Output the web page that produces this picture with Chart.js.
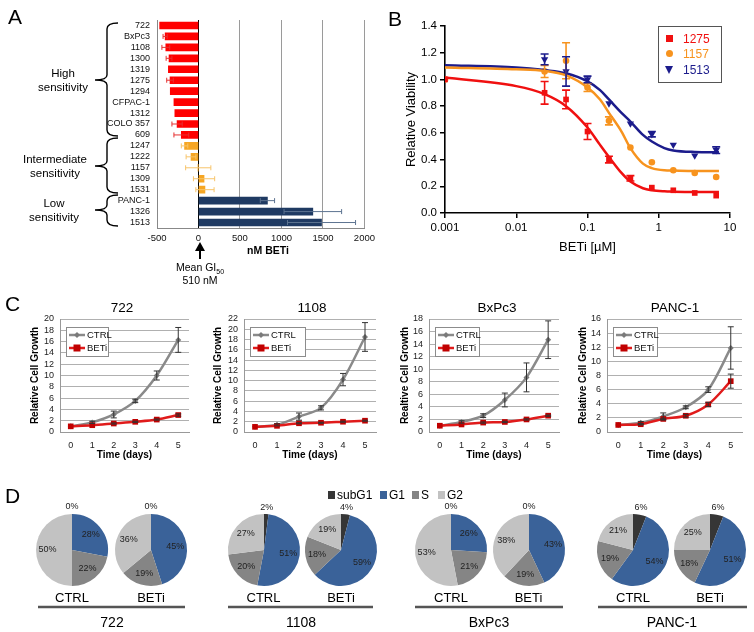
<!DOCTYPE html>
<html><head><meta charset="utf-8">
<script src="https://cdn.jsdelivr.net/npm/chart.js@4.4.1/dist/chart.umd.min.js"></script>
<style>
body{margin:0;background:#fff;}
#root{position:relative;width:754px;height:632px;overflow:hidden;background:#fff;font-family:"Liberation Sans",Arial,sans-serif;}
canvas,.t,svg{position:absolute;}
.t{white-space:nowrap;color:#000;line-height:1;}
</style></head><body><div id="root"></div>
<script>
// ================= DATA =================
// Panel A: GI50 relative to mean (nM)
const aLines  = ['722','BxPc3','1108','1300','1319','1275','1294','CFPAC-1','1312','COLO 357','609','1247','1222','1157','1309','1531','PANC-1','1326','1513'];
const aValues = [-468,-402,-394,-355,-363,-343,-340,-296,-285,-258,-207,-168,-90,-3,67,78,831,1378,1483];
const aErrors = [0,25,47,35,0,40,0,0,0,62,89,39,59,152,128,110,86,347,410];
const aGroups = ['H','H','H','H','H','H','H','H','H','H','H','M','M','M','M','M','L','L','L'];
const aTicks  = [-500,0,500,1000,1500,2000];

// Panel B: dose response (relative viability)
const bDoses   = [0.001,0.025,0.05,0.1,0.2,0.4,0.8,1.6,3.2,6.4];
const b1275    = [1.00,0.90,0.85,0.61,0.40,0.26,0.19,0.17,0.15,0.13];
const b1275Err = [0,0.085,0.07,0.06,0.025,0.02,0,0,0,0];
const b1157    = [1.00,1.06,1.14,0.94,0.69,0.49,0.38,0.32,0.30,0.27];
const b1157Err = [0,0.045,0.135,0.03,0.03,0,0,0,0,0];
const b1513    = [1.00,1.15,1.06,1.00,0.82,0.67,0.59,0.51,0.43,0.47];
const b1513Err = [0,0.04,0.11,0.025,0,0,0.02,0,0,0.025];
const bFitX    = [0.001,0.01,0.025,0.05,0.1,0.15,0.2,0.3,0.4,0.6,0.8,1.2,1.6,3.2,7];
const bFit1275 = [1.014,0.95,0.89,0.80,0.64,0.51,0.42,0.30,0.235,0.185,0.17,0.162,0.16,0.158,0.158];
const bFit1157 = [1.09,1.076,1.064,1.03,0.94,0.85,0.75,0.61,0.486,0.37,0.336,0.32,0.318,0.315,0.315];
const bFit1513 = [1.106,1.09,1.07,1.046,0.985,0.92,0.85,0.75,0.685,0.585,0.535,0.486,0.468,0.457,0.455];
const bTicksX  = [0.001,0.01,0.1,1,10];

// Panel C: relative cell growth
const cDays = ['0','1','2','3','4','5'];
const c722Ctrl     = [1,1.7,3.1,5.5,10.0,16.3];
const c722CtrlErr  = [0,0.2,0.6,0.3,0.8,2.2];
const c722Beti     = [1,1.2,1.5,1.8,2.2,3.0];
const c722BetiErr  = [0,0,0.1,0.1,0.1,0.2];
const c1108Ctrl    = [1,1.4,3.0,4.7,10.2,18.5];
const c1108CtrlErr = [0,0.2,0.7,0.4,1.2,2.8];
const c1108Beti    = [1,1.2,1.7,1.8,2.0,2.2];
const c1108BetiErr = [0,0,0.1,0.1,0.1,0.1];
const cBxCtrl      = [1,1.6,2.6,5.1,8.7,14.7];
const cBxCtrlErr   = [0,0.2,0.3,1.1,2.3,3.0];
const cBxBeti      = [1,1.2,1.5,1.6,2.0,2.6];
const cBxBetiErr   = [0,0,0.1,0.1,0.1,0.1];
const cPancCtrl    = [1,1.3,2.2,3.5,6.0,11.9];
const cPancCtrlErr = [0,0.2,0.5,0.2,0.4,3.0];
const cPancBeti    = [1,1.1,1.85,2.3,3.9,7.2];
const cPancBetiErr = [0,0.1,0.1,0.2,0.3,1.0];

// Panel D: cell cycle phases (%), order subG1, G1, S, G2
const dPhases   = ['subG1','G1','S','G2'];
const d722Ctrl  = [0,28,22,50];
const d722Beti  = [0,45,19,36];
const d1108Ctrl = [2,51,20,27];
const d1108Beti = [4,59,18,19];
const dBxCtrl   = [0,26,21,53];
const dBxBeti   = [0,43,19,38];
const dPancCtrl = [6,54,19,21];
const dPancBeti = [6,51,18,25];

// ================= HELPERS =================
const FONT = '"Liberation Sans", Arial, sans-serif';
Chart.defaults.font.family = FONT;
Chart.defaults.color = '#000';
Chart.defaults.animation = false;
Chart.defaults.plugins.legend.display = false;
Chart.defaults.plugins.tooltip.enabled = false;
const root = document.getElementById('root');
function mk(x,y,w,h){const c=document.createElement('canvas');c.width=w;c.height=h;c.style.left=x+'px';c.style.top=y+'px';c.style.width=w+'px';c.style.height=h+'px';root.appendChild(c);return c;}
function txt(s,x,y,o={}){const d=document.createElement('div');d.className='t';d.innerHTML=s;
  d.style.font=(o.font||'12px')+' '+FONT;d.style.color=o.color||'#000';
  const ax=o.align==='left'?0:(o.align==='right'?-100:-50);
  d.style.left=x+'px';d.style.top=y+'px';d.style.transform=`translate(${ax}%,-50%)`;root.appendChild(d);return d;}

// ================= PANEL A =================
const aColor = {H:'#ff0000',M:'#f6a623',L:'#1f3a62'};
const aErrColor = {H:'#e53030',M:'#f7c46a',L:'#5d7391'};
const errA = {id:'errA',afterDatasetsDraw(chart){
  const ctx=chart.ctx,xs=chart.scales.x,meta=chart.getDatasetMeta(0);
  ctx.save();ctx.lineWidth=1;
  meta.data.forEach((b,i)=>{const e=aErrors[i];if(!e)return;const v=aValues[i];
    const x1=xs.getPixelForValue(v-e),x2=xs.getPixelForValue(v+e),y=b.y;
    ctx.strokeStyle=aErrColor[aGroups[i]];ctx.beginPath();ctx.moveTo(x1,y);ctx.lineTo(x2,y);
    ctx.moveTo(x1,y-2.5);ctx.lineTo(x1,y+2.5);ctx.moveTo(x2,y-2.5);ctx.lineTo(x2,y+2.5);ctx.stroke();});
  ctx.restore();}};
new Chart(mk(0,0,380,246),{type:'bar',
  data:{labels:aLines,datasets:[{data:aValues,backgroundColor:aGroups.map(g=>aColor[g]),barThickness:7,borderWidth:0}]},
  options:{responsive:false,indexAxis:'y',layout:{padding:{top:20,right:10,left:0,bottom:0}},
    scales:{
      y:{afterFit(s){s.width=157;},grid:{display:false,drawTicks:false},border:{display:true,color:'#888',width:1},
         ticks:{font:{size:9},padding:7,color:'#111',autoSkip:false}},
      x:{type:'linear',min:-500,max:2000,afterBuildTicks(s){s.ticks=aTicks.map(v=>({value:v}));},afterFit(s){s.height=18;},
         grid:{drawTicks:false,color:c=>c.tick&&c.tick.value===0?'#000':'#9a9a9a',lineWidth:1},border:{color:'#888'},
         ticks:{font:{size:9.5},padding:5,color:'#111',callback:v=>String(v)}}
    }},plugins:[errA]});

// braces and annotations
const svgNS='http://www.w3.org/2000/svg';
const svg=document.createElementNS(svgNS,'svg');svg.setAttribute('width','754');svg.setAttribute('height','632');svg.style.left='0';svg.style.top='0';svg.style.pointerEvents='none';
function brace(t,b,mid){const p=document.createElementNS(svgNS,'path');
  const d=`M118 ${t} Q107 ${t} 107 ${t+6} L107 ${mid-5} Q107 ${mid} 95 ${mid} Q107 ${mid} 107 ${mid+5} L107 ${b-6} Q107 ${b} 118 ${b}`;
  p.setAttribute('d',d);p.setAttribute('fill','none');p.setAttribute('stroke','#000');p.setAttribute('stroke-width','1.4');svg.appendChild(p);}
brace(23,136,80);brace(138,193,166);brace(195,226,210);
const ar=document.createElementNS(svgNS,'path');ar.setAttribute('d','M200 242 L205 251 L201 251 L201 259 L199 259 L199 251 L195 251 Z');ar.setAttribute('fill','#000');svg.appendChild(ar);
[[38,185],[228,373],[415,563],[598,747]].forEach(([a,b])=>{const l=document.createElementNS(svgNS,'line');
  l.setAttribute('x1',a);l.setAttribute('x2',b);l.setAttribute('y1',607);l.setAttribute('y2',607);l.setAttribute('stroke','#555');l.setAttribute('stroke-width','2.5');svg.appendChild(l);});
root.appendChild(svg);

txt('A',8,17,{font:'21px',align:'left'});
txt('High',63,73,{font:'11.5px'});txt('sensitivity',63,87,{font:'11.5px'});
txt('Intermediate',55,159,{font:'11.5px'});txt('sensitivity',55,173,{font:'11.5px'});
txt('Low',54,203,{font:'11.5px'});txt('sensitivity',54,217,{font:'11.5px'});
txt('nM BETi',268,250,{font:'bold 10.5px'});
txt('Mean GI<sub style="font-size:7px">50</sub>',200,268,{font:'10.5px'});
txt('510 nM',200,280,{font:'10.5px'});

// ================= PANEL B =================
const errB = {id:'errB',afterDatasetsDraw(chart){
  const ctx=chart.ctx,ys=chart.scales.y;ctx.save();ctx.lineWidth=1.6;
  chart.data.datasets.forEach((ds,di)=>{if(!ds.errs)return;const meta=chart.getDatasetMeta(di);
    ctx.strokeStyle=ds.borderColor;
    meta.data.forEach((p,i)=>{const e=ds.errs[i];if(!e)return;const v=ds.data[i].y;
      const y1=ys.getPixelForValue(v+e),y2=ys.getPixelForValue(v-e);
      ctx.beginPath();ctx.moveTo(p.x,y1);ctx.lineTo(p.x,y2);ctx.moveTo(p.x-4,y1);ctx.lineTo(p.x+4,y1);ctx.moveTo(p.x-4,y2);ctx.lineTo(p.x+4,y2);ctx.stroke();});});
  ctx.restore();}};
const bRed='#f01010',bOrange='#f7931e',bNavy='#1c1c8c';
function pts(xs,ys){return xs.map((x,i)=>({x,y:ys[i]}));}
new Chart(mk(380,0,374,270),{type:'scatter',
  data:{datasets:[
    {data:pts(bFitX,bFit1275),showLine:true,pointRadius:0,borderColor:bRed,borderWidth:2.5,cubicInterpolationMode:'monotone'},
    {data:pts(bFitX,bFit1157),showLine:true,pointRadius:0,borderColor:bOrange,borderWidth:2.5,cubicInterpolationMode:'monotone'},
    {data:pts(bFitX,bFit1513),showLine:true,pointRadius:0,borderColor:bNavy,borderWidth:2.5,cubicInterpolationMode:'monotone'},
    {data:pts(bDoses,b1275),errs:b1275Err,pointStyle:'rect',pointRadius:4,backgroundColor:bRed,borderColor:bRed,borderWidth:0},
    {data:pts(bDoses,b1157),errs:b1157Err,pointStyle:'circle',pointRadius:3.3,backgroundColor:bOrange,borderColor:bOrange,borderWidth:0},
    {data:pts(bDoses,b1513),errs:b1513Err,pointStyle:'triangle',rotation:180,pointRadius:4.2,backgroundColor:bNavy,borderColor:bNavy,borderWidth:0}
  ]},
  options:{responsive:false,layout:{padding:{top:26,right:24,left:20,bottom:11}},
    scales:{
      x:{type:'logarithmic',min:0.001,max:10,afterBuildTicks(s){s.ticks=bTicksX.map(v=>({value:v}));},afterFit(s){s.height=46;},
        grid:{drawOnChartArea:false,drawTicks:true,tickLength:5,color:'#000',lineWidth:1.5},border:{color:'#000',width:1.6},
        ticks:{font:{size:11.5},padding:3,callback:v=>String(v),autoSkip:false,maxRotation:0},
        title:{display:true,text:'BETi [µM]',font:{size:13}}},
      y:{min:0,max:1.4,afterFit(s){s.width=45;},
        grid:{drawOnChartArea:false,drawTicks:true,tickLength:5,color:'#000',lineWidth:1.5},border:{color:'#000',width:1.6},
        ticks:{stepSize:0.2,font:{size:11.5},padding:3,callback:v=>v.toFixed(1)},
        title:{display:true,text:'Relative Viability',font:{size:13}}}
    }},plugins:[errB]});
txt('B',388,19,{font:'21px',align:'left'});
(function(){const box=document.createElement('div');box.style.cssText='position:absolute;left:658px;top:26px;width:62px;height:55px;border:1px solid #555;';root.appendChild(box);
  const m1=document.createElement('div');m1.style.cssText='position:absolute;left:666px;top:35px;width:7px;height:7px;background:'+bRed;root.appendChild(m1);
  const m2=document.createElement('div');m2.style.cssText='position:absolute;left:666px;top:50px;width:7px;height:7px;border-radius:50%;background:'+bOrange;root.appendChild(m2);
  const m3=document.createElement('div');m3.style.cssText='position:absolute;left:665px;top:66px;width:0;height:0;border-left:4.5px solid transparent;border-right:4.5px solid transparent;border-top:8px solid '+bNavy;root.appendChild(m3);
  txt('1275',683,39,{font:'12px',align:'left',color:bRed});
  txt('1157',683,54,{font:'12px',align:'left',color:bOrange});
  txt('1513',683,70,{font:'12px',align:'left',color:bNavy});})();

// ================= PANEL C =================
const ctrlCol='#8a8a8a',betiLine='#e01b1b',betiMark='#c00000';
function cPlugin(lw){return {id:'cp',afterDatasetsDraw(chart){
  const ctx=chart.ctx,ys=chart.scales.y,ca=chart.chartArea;ctx.save();
  chart.data.datasets.forEach((ds,di)=>{const meta=chart.getDatasetMeta(di);ctx.strokeStyle='#333';ctx.lineWidth=1;
    meta.data.forEach((p,i)=>{const e=ds.errs[i];if(!e)return;const v=ds.data[i];
      const y1=ys.getPixelForValue(v+e),y2=ys.getPixelForValue(v-e);
      ctx.beginPath();ctx.moveTo(p.x,y1);ctx.lineTo(p.x,y2);ctx.moveTo(p.x-3,y1);ctx.lineTo(p.x+3,y1);ctx.moveTo(p.x-3,y2);ctx.lineTo(p.x+3,y2);ctx.stroke();});});
  const bx=ca.left+6,by=ca.top+8,bh=29;
  ctx.fillStyle='#fff';ctx.fillRect(bx,by,lw,bh);ctx.strokeStyle='#8c8c8c';ctx.lineWidth=1;ctx.strokeRect(bx+0.5,by+0.5,lw,bh);
  const rows=[{y:by+8,c:ctrlCol,m:'d',t:'CTRL'},{y:by+21,c:betiLine,m:'s',t:'BETi'}];
  rows.forEach(r=>{ctx.strokeStyle=r.c;ctx.lineWidth=2.5;ctx.beginPath();ctx.moveTo(bx+3,r.y);ctx.lineTo(bx+19,r.y);ctx.stroke();
    if(r.m==='d'){ctx.fillStyle='#7a7a7a';ctx.beginPath();ctx.moveTo(bx+11,r.y-3);ctx.lineTo(bx+14,r.y);ctx.lineTo(bx+11,r.y+3);ctx.lineTo(bx+8,r.y);ctx.fill();}
    else{ctx.fillStyle=betiMark;ctx.fillRect(bx+7.5,r.y-3.5,7,7);}
    ctx.fillStyle='#111';ctx.font='9.5px '+FONT;ctx.textBaseline='middle';ctx.fillText(r.t,bx+21,r.y+0.5);});
  ctx.restore();}};}
function growth(x,w,padL,axW,padR,maxY,ctrl,ctrlE,beti,betiE,yTitle,lw){
  new Chart(mk(x,295,w,170),{type:'line',
    data:{labels:cDays,datasets:[
      {data:ctrl,errs:ctrlE,order:1,borderColor:ctrlCol,borderWidth:2.5,pointStyle:'rectRot',pointRadius:3,pointBackgroundColor:'#7a7a7a',pointBorderWidth:0,tension:0.3},
      {data:beti,errs:betiE,order:0,borderColor:betiLine,borderWidth:2.5,pointStyle:'rect',pointRadius:4,pointBackgroundColor:betiMark,pointBorderColor:betiMark,pointBorderWidth:0,tension:0.3}
    ]},
    options:{responsive:false,layout:{padding:{top:24,left:padL,right:padR,bottom:0}},
      scales:{
        x:{offset:true,afterFit(s){s.height=33;},grid:{display:false,drawTicks:false},border:{color:'#999'},
           ticks:{font:{size:9},padding:8,color:'#222'},title:{display:true,text:'Time (days)',font:{size:10,weight:'bold'}}},
        y:{min:0,max:maxY,afterFit(s){s.width=axW;},grid:{drawTicks:false,color:'#b0b0b0'},border:{color:'#999'},
           ticks:{stepSize:2,autoSkip:false,font:{size:9},padding:6,color:'#222'},title:{display:true,text:yTitle,font:{size:10,weight:'bold'}}}
      }},plugins:[cPlugin(lw)]});
}
growth(0,195,25,35,6,20,c722Ctrl,c722CtrlErr,c722Beti,c722BetiErr,'Relative Cell Growth',42);
growth(190,190,18,36,2,22,c1108Ctrl,c1108CtrlErr,c1108Beti,c1108BetiErr,'Relative Cell Growth',55);
growth(380,185,15,34,6,18,cBxCtrl,cBxCtrlErr,cBxBeti,cBxBetiErr,'Realtive Cell Growth',44);
growth(565,189,8,34,12,16,cPancCtrl,cPancCtrlErr,cPancBeti,cPancBetiErr,'Relative Cell Growth',44);
txt('C',5,304,{font:'21px',align:'left'});
txt('722',122,307,{font:'13.5px'});txt('1108',312,307,{font:'13.5px'});
txt('BxPc3',497,307,{font:'13.5px'});txt('PANC-1',675,307,{font:'13.5px'});

// ================= PANEL D =================
const dColors=['#363636','#3a6299','#858585','#c2c2c2'];
const pieLbl={id:'pl',afterDatasetsDraw(chart){
  const ctx=chart.ctx,meta=chart.getDatasetMeta(0),ds=chart.data.datasets[0];ctx.save();
  ctx.font='9px '+FONT;ctx.fillStyle='#222';ctx.textAlign='center';ctx.textBaseline='middle';
  meta.data.forEach((a,i)=>{const v=ds.data[i];const mid=(a.startAngle+a.endAngle)/2;
    const d=v<8?a.outerRadius+7:a.outerRadius*0.68;
    ctx.fillText(v+'%',a.x+Math.cos(mid)*d,a.y+Math.sin(mid)*d);});
  ctx.restore();}};
function pie(cx,data){new Chart(mk(cx-50,500,100,100),{type:'pie',
  data:{labels:dPhases,datasets:[{data:data,backgroundColor:dColors,borderWidth:0}]},
  options:{responsive:false,layout:{padding:14}},plugins:[pieLbl]});}
pie(72,d722Ctrl);pie(151,d722Beti);pie(263.5,d1108Ctrl);pie(341,d1108Beti);
pie(451,dBxCtrl);pie(528.5,dBxBeti);pie(633,dPancCtrl);pie(710,dPancBeti);
[[72,'CTRL'],[151,'BETi'],[263.5,'CTRL'],[341,'BETi'],[451,'CTRL'],[528.5,'BETi'],[633,'CTRL'],[710,'BETi']].forEach(([x,s])=>txt(s,x,597,{font:'13px'}));
[[112,'722'],[301,'1108'],[489,'BxPc3'],[672,'PANC-1']].forEach(([x,s])=>txt(s,x,622,{font:'14px'}));
txt('D',5,496,{font:'21px',align:'left'});
[[328,337,'subG1',0],[380,389,'G1',1],[412,421,'S',2],[438,447,'G2',3]].forEach(([mx,tx,s,i])=>{
  const m=document.createElement('div');m.style.cssText=`position:absolute;left:${mx}px;top:491px;width:7px;height:8px;background:${dColors[i]}`;root.appendChild(m);
  txt(s,tx,495,{font:'12px',align:'left'});});
</script></body></html>
